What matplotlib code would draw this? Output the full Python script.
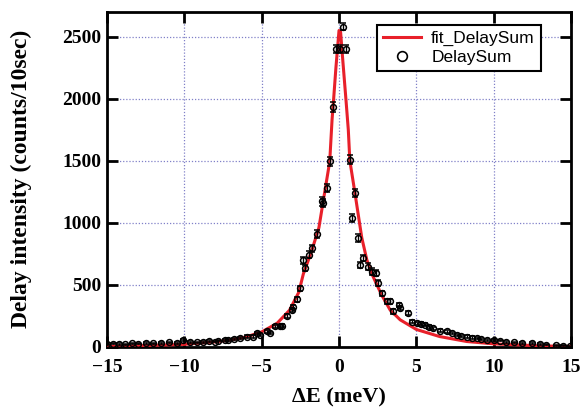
import matplotlib
matplotlib.use("Agg")
import matplotlib.pyplot as plt
from matplotlib.lines import Line2D

# Measured data (DelaySum)
de = [-15.0, -14.6, -14.2, -13.8, -13.4, -13.0, -12.5, -12.0, -11.5, -11.0, -10.5,
      -10.07, -9.6, -9.2, -8.8, -8.4, -8.0, -7.8, -7.4, -7.15, -6.8, -6.4, -5.97,
      -5.56, -5.3, -5.1, -4.67, -4.46, -4.14, -3.8, -3.7, -3.38, -3.06, -3.0, -2.73,
      -2.52, -2.35, -2.2, -1.92, -1.77, -1.44, -1.12, -1.05, -0.8, -0.6, -0.37,
      -0.2, 0.06, 0.25, 0.42, 0.7, 0.82, 1.03, 1.22, 1.36, 1.58, 1.9, 2.12, 2.4,
      2.5, 2.76, 3.08, 3.3, 3.52, 3.9, 3.94, 4.48, 4.7, 5.02, 5.3, 5.56, 5.8, 6.1,
      6.53, 6.96, 7.3, 7.6, 7.9, 8.25, 8.6, 8.9, 9.2, 9.55, 10.0, 10.4, 10.8, 11.3,
      11.8, 12.5, 13.0, 13.4, 14.0, 14.5, 14.9]
counts = [20, 25, 22, 20, 28, 25, 30, 28, 30, 35, 32,
          56, 40, 35, 38, 45, 42, 51, 55, 56, 62, 70, 83,
          83, 110, 97, 124, 110, 164, 164, 170, 245, 298, 320, 384,
          473, 696, 634, 742, 796, 911, 1172, 1160, 1280, 1494, 1933,
          2400, 2400, 2580, 2400, 1508, 1038, 1240, 877, 661, 715, 647, 607, 594,
          512, 432, 366, 366, 285, 339, 311, 270, 204, 190, 185, 177, 160, 150,
          131, 124, 110, 97, 90, 83, 75, 69, 62, 56, 55, 51, 40, 35,
          32, 30, 22, 16, 12, 8, 3]
errs = [5, 5, 5, 5, 5, 5, 6, 5, 6, 6, 6,
        8, 6, 6, 6, 7, 7, 7, 7, 8, 8, 8, 9,
        9, 10, 10, 11, 10, 13, 13, 13, 16, 17, 18, 19,
        21, 26, 25, 27, 28, 30, 34, 34, 36, 38, 44,
        30, 30, 30, 30, 38, 32, 35, 30, 26, 27, 25, 25, 24,
        23, 21, 19, 19, 17, 18, 18, 16, 14, 14, 14, 13, 13, 12,
        11, 11, 10, 10, 9, 9, 9, 8, 8, 7, 7, 7, 6, 6,
        6, 5, 5, 4, 3, 3, 2]

# Fit curve (fit_DelaySum)
fit_de = [-15, -12, -10, -8, -7, -6, -5, -4, -3.2, -2.6, -2.3, -1.8, -1.55, -1.3,
          -0.9, -0.6, -0.45, -0.35, -0.2, 0.0, 0.1, 0.25, 0.45, 0.6, 0.7, 1.03,
          1.47, 1.8, 2.2, 2.75, 3.3, 3.95, 5.0, 6.5, 8.25, 10.0, 12.9, 15]
fit_counts = [5, 12, 20, 40, 55, 80, 120, 190, 295, 440, 590, 760, 860, 960,
              1266, 1494, 1830, 1993, 2250, 2550, 2540, 2300, 1990, 1750, 1500, 1240,
              880, 700, 567, 419, 298, 218, 140, 83, 43, 24, 8, 3]

xticks = [-15, -10, -5, 0, 5, 10, 15]
yticks = [0, 500, 1000, 1500, 2000, 2500]

fig = plt.figure(figsize=(5.81, 4.09), dpi=100)
ax = fig.add_axes([0.184, 0.152, 0.799, 0.819])

ax.plot(fit_de, fit_counts, color="#e8202a", lw=2.2, label="fit_DelaySum", zorder=3)
ax.errorbar(de, counts, yerr=errs, fmt="o", ms=4.2, mfc="none", mec="black",
            mew=1.1, ecolor="black", elinewidth=1.0, capsize=2.5, capthick=1.0,
            label="DelaySum", zorder=4)

ax.set_xlim(-15, 15)
ax.set_ylim(0, 2700)
ax.set_xticks(xticks)
ax.set_yticks(yticks)
ax.grid(True, color="#8080c8", linestyle=(0, (1, 1.5)), lw=0.9)
ax.set_axisbelow(True)

for s in ax.spines.values():
    s.set_linewidth(2.0)
ax.tick_params(direction="in", length=8, width=2.0, top=True, right=True,
               labelsize=14)
ax.tick_params(axis="x", pad=9)
ax.tick_params(axis="y", pad=4)
for lab in ax.get_xticklabels() + ax.get_yticklabels():
    lab.set_fontfamily("Liberation Serif")
    lab.set_fontweight("bold")

ax.set_xlabel("ΔE (meV)", fontfamily="Liberation Serif", fontweight="bold",
              fontsize=16, labelpad=8)
ax.set_ylabel("Delay intensity (counts/10sec)", fontfamily="Liberation Serif",
              fontweight="bold", fontsize=17, labelpad=22)

handles, labels = ax.get_legend_handles_labels()
h_fit = handles[0]
h_pts = Line2D([], [], marker="o", ls="none", ms=7, mfc="none", mec="black", mew=1.2)
leg = ax.legend([h_fit, h_pts], ["fit_DelaySum", "DelaySum"], loc="upper right",
                bbox_to_anchor=(0.935, 0.962), borderaxespad=0, fancybox=False,
                framealpha=1, edgecolor="black",
                prop={"family": "Liberation Sans", "size": 12.5},
                borderpad=0.35, handlelength=2.2, handletextpad=0.6,
                labelspacing=0.2)
leg.get_frame().set_linewidth(1.5)

fig.savefig("out.png", dpi=100)
